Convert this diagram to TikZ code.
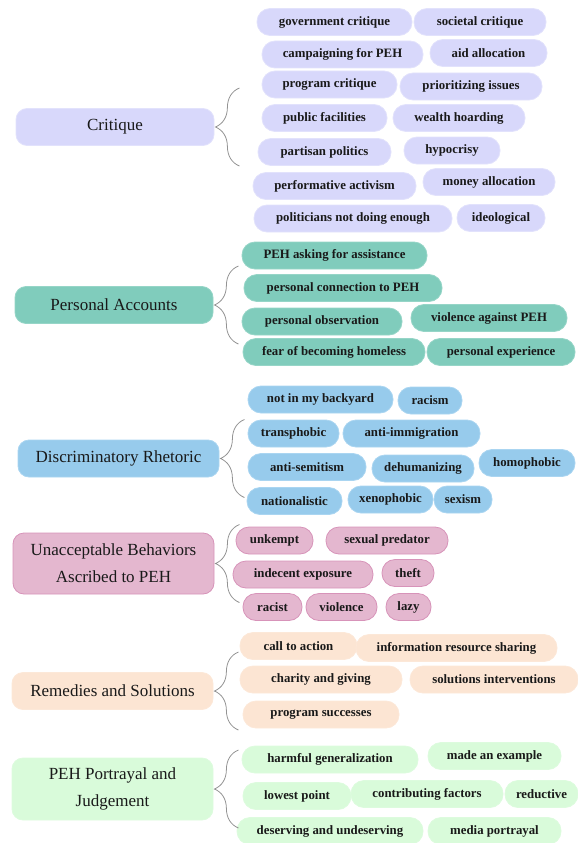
\documentclass[tikz,border=0pt]{standalone}
\usepackage{fontspec}
\setmainfont{Liberation Serif}
\usepackage{xcolor}
\usetikzlibrary{decorations.pathreplacing}

\definecolor{critF}{HTML}{D8D8FB}
\definecolor{critD}{HTML}{E2E2FC}
\definecolor{persF}{HTML}{80CCBC}
\definecolor{persD}{HTML}{96D5C7}
\definecolor{discF}{HTML}{97CBEC}
\definecolor{discD}{HTML}{AAD5F1}
\definecolor{unacF}{HTML}{E4B7CF}
\definecolor{unacD}{HTML}{D793B9}
\definecolor{remeF}{HTML}{FCE5D3}
\definecolor{remeD}{HTML}{FCE8D8}
\definecolor{portF}{HTML}{D9FBDA}
\definecolor{portD}{HTML}{DDFBDE}

\begin{document}
\begin{tikzpicture}[
    x=1pt, y=-1pt,
    topic/.style={draw, line width=0.8pt, rounded corners=11pt, minimum width=198pt, minimum height=37pt, align=center, text=black!90, font=\fontsize{17}{27}\selectfont},
    tag/.style={draw, line width=0.8pt, rounded corners=13pt, minimum height=27pt, inner xsep=0pt, text=black!90, font=\bfseries\fontsize{12.8}{14}\selectfont},
    ctag/.style={tag, fill=critF, draw=critD},
    ptag/.style={tag, fill=persF, draw=persD},
    dtag/.style={tag, fill=discF, draw=discD},
    utag/.style={tag, fill=unacF, draw=unacD},
    rtag/.style={tag, fill=remeF, draw=remeD},
    jtag/.style={tag, fill=portF, draw=portD},
    brc/.style={decorate, decoration={brace, amplitude=24pt}, draw=gray!85, line width=0.8pt}
]
\useasboundingbox (0,0) rectangle (578,843);

% main topics
\node[topic, fill=critF, draw=critD] (crit) at (115,127) {Critique};
\node[topic, fill=persF, draw=persD] (pers) at (114,305) {Personal Accounts};
\node[topic, fill=discF, draw=discD, minimum width=201pt] (disc) at (118.5,458.5) {Discriminatory Rhetoric};
\node[topic, fill=unacF, draw=unacD, minimum width=201pt, minimum height=61pt] (unac) at (113.5,563.5) {Unacceptable Behaviors\\Ascribed to PEH};
\node[topic, fill=remeF, draw=remeD, minimum width=201pt] (reme) at (112.5,691) {Remedies and Solutions};
\node[topic, fill=portF, draw=portD, minimum width=201pt, minimum height=62pt] (port) at (112.5,789) {PEH Portrayal and\\Judgement};

% critique
\node[ctag, minimum width=155pt] (govcrit) at (334.5,22) {government critique};
\node[ctag, minimum width=132pt] (soccrit) at (480,22) {societal critique};
\node[ctag, minimum width=161pt] (campaign) at (342.5,54.5) {campaigning for PEH};
\node[ctag, minimum width=117pt] (aidalloc) at (488.5,53) {aid allocation};
\node[ctag, minimum width=135pt] (progcrit) at (329.5,84.5) {program critique};
\node[ctag, minimum width=142pt] (priority) at (471,86.5) {prioritizing issues};
\node[ctag, minimum width=125pt] (pubfac) at (324.5,118) {public facilities};
\node[ctag, minimum width=132pt] (wealth) at (459,118) {wealth hoarding};
\node[ctag, minimum width=133pt] (partisan) at (324.5,152) {partisan politics};
\node[ctag, minimum width=96pt] (hypocrisy) at (452,150.5) {hypocrisy};
\node[ctag, minimum width=163pt] (perform) at (334.5,186) {performative activism};
\node[ctag, minimum width=132pt] (moneyalloc) at (489,182) {money allocation};
\node[ctag, minimum width=198pt] (politic) at (353,218.5) {politicians not doing enough};
\node[ctag, minimum width=88pt] (ideolog) at (501,218) {ideological};

% personal accounts
\node[ptag, minimum width=185pt] (asking) at (334.5,255.5) {PEH asking for assistance};
\node[ptag, minimum width=198pt] (connect) at (343,288) {personal connection to PEH};
\node[ptag, minimum width=160pt] (observe) at (322,321.5) {personal observation};
\node[ptag, minimum width=156pt] (violpeh) at (489,318) {violence against PEH};
\node[ptag, minimum width=182pt] (fear) at (334,352) {fear of becoming homeless};
\node[ptag, minimum width=148pt] (persexp) at (501,352) {personal experience};

% discriminatory rhetoric
\node[dtag, minimum width=145pt] (nimby) at (320.5,399.5) {not in my backyard};
\node[dtag, minimum width=64pt] (racism) at (430,400.5) {racism};
\node[dtag, minimum width=91pt] (transph) at (293.5,433.5) {transphobic};
\node[dtag, minimum width=137pt] (antiimm) at (411.5,433.5) {anti-immigration};
\node[dtag, minimum width=118pt] (antisem) at (307,467) {anti-semitism};
\node[dtag, minimum width=102pt] (dehuman) at (423,468.5) {dehumanizing};
\node[dtag, minimum width=96pt] (homoph) at (527,463) {homophobic};
\node[dtag, minimum width=95pt] (nation) at (294.5,501) {nationalistic};
\node[dtag, minimum width=85pt] (xenoph) at (390.5,499.5) {xenophobic};
\node[dtag, minimum width=58pt] (sexism) at (463,499.5) {sexism};

% unacceptable behaviors
\node[utag, minimum width=77pt] (unkempt) at (274.5,540.5) {unkempt};
\node[utag, minimum width=122pt] (predator) at (387,540.5) {sexual predator};
\node[utag, minimum width=140pt] (indecent) at (303,574.5) {indecent exposure};
\node[utag, minimum width=52pt] (theft) at (408,573) {theft};
\node[utag, minimum width=59pt] (racist) at (272.5,607) {racist};
\node[utag, minimum width=71pt] (violence) at (341.5,607) {violence};
\node[utag, minimum width=45pt] (lazy) at (408.5,607) {lazy};

% remedies and solutions
\node[rtag, minimum width=117pt] (calltoact) at (298.5,646) {call to action};
\node[rtag, minimum width=201pt] (infoshare) at (456.5,648) {information resource sharing};
\node[rtag, minimum width=162pt] (charity) at (321,679.5) {charity and giving};
\node[rtag, minimum width=168pt] (solution) at (494,679.5) {solutions interventions};
\node[rtag, minimum width=156pt] (progsucc) at (321,714.5) {program successes};

% portrayal and judgement
\node[jtag, minimum width=176pt] (harmful) at (330,759.5) {harmful generalization};
\node[jtag, minimum width=133pt] (example) at (494.5,756) {made an example};
\node[jtag, minimum width=108pt] (lowest) at (297,796) {lowest point};
\node[jtag, minimum width=152pt] (contrib) at (427,794) {contributing factors};
\node[jtag, minimum width=73pt] (reductive) at (541.5,794) {reductive};
\node[jtag, minimum width=186pt] (deserving) at (330,831) {deserving and undeserving};
\node[jtag, minimum width=133pt] (media) at (494.5,831) {media portrayal};

% braces
\foreach \t in {crit,pers,disc,unac,reme,port}
    \draw[brc] ([shift={(25,39)}]\t.east) -- ([shift={(25,-39)}]\t.east);
\end{tikzpicture}
\end{document}
